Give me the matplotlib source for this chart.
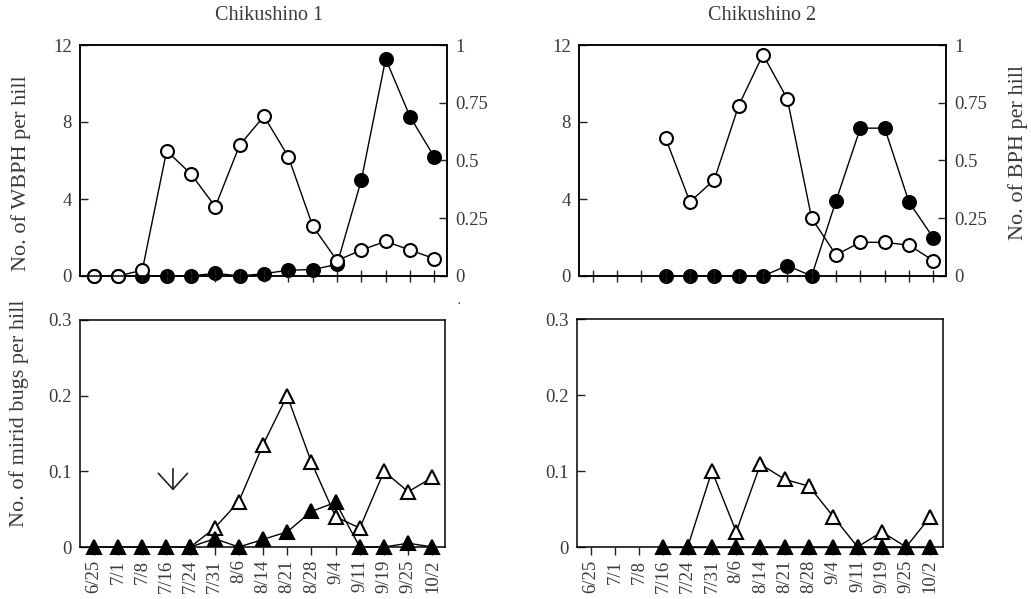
import numpy as np
import matplotlib
matplotlib.use("Agg")
import matplotlib.pyplot as plt

nan = np.nan
dates = ['6/25', '7/1', '7/8', '7/16', '7/24', '7/31', '8/6', '8/14',
         '8/21', '8/28', '9/4', '9/11', '9/19', '9/25', '10/2']

# Chikushino 1
wbph_c1 = [0, 0, 0.3, 6.5, 5.3, 3.6, 6.8, 8.3, 6.2, 2.6, 0.8, 1.35, 1.8, 1.35, 0.9]
bph_c1 = [0, 0, 0, 0, 0, 0.012, 0, 0.01, 0.025, 0.028, 0.05, 0.415, 0.94, 0.69, 0.515]
mirid_open_c1 = [nan, nan, nan, nan, 0, 0.025, 0.06, 0.135, 0.2, 0.112, 0.04, 0.025, 0.1, 0.073, 0.092]
mirid_fill_c1 = [0, 0, 0, 0, 0, 0.011, 0, 0.01, 0.02, 0.047, 0.059, 0, 0, 0.005, 0]

# Chikushino 2
wbph_c2 = [nan, nan, nan, 7.15, 3.85, 5.0, 8.85, 11.5, 9.2, 3.0, 1.1, 1.75, 1.75, 1.6, 0.8]
bph_c2 = [nan, nan, nan, 0, 0, 0, 0, 0, 0.045, 0, 0.325, 0.64, 0.64, 0.32, 0.165]
mirid_open_c2 = [nan, nan, nan, nan, 0, 0.1, 0.02, 0.109, 0.089, 0.08, 0.04, 0, 0.02, 0, 0.04]
mirid_fill_c2 = [nan, nan, nan, 0, 0, 0, 0, 0, 0, 0, 0, 0, 0, 0, 0]

titles = ['Chikushino 1', 'Chikushino 2']
wbph_ticks = [0, 4, 8, 12]
bph_ticks = [0, 0.25, 0.5, 0.75, 1]
bph_ticklabels = ['0', '0.25', '0.5', '0.75', '1']
mirid_ticks = [0, 0.1, 0.2, 0.3]
mirid_ticklabels = ['0', '0.1', '0.2', '0.3']

FONT = 'Liberation Serif'
TC = '#3a3a3a'
plt.rcParams['font.family'] = [FONT, 'DejaVu Serif']
plt.rcParams['text.color'] = TC
plt.rcParams['xtick.color'] = '#222222'
plt.rcParams['ytick.color'] = '#222222'
plt.rcParams['xtick.labelcolor'] = TC
plt.rcParams['ytick.labelcolor'] = TC

W, H = 1031, 599
fig = plt.figure(figsize=(W / 100, H / 100), dpi=100)


def rect(l, r, t, b):
    return [l / W, 1 - b / H, (r - l) / W, (b - t) / H]


x = np.arange(len(dates))
XLIM = (-0.56, 14.52)
LW = 1.0
MS = 9.3
MEW = 1.5
SPW = 1.1
TICK_FS = 13.5

top_rects = [rect(80, 447, 45, 276), rect(579, 946, 45, 276)]
bot_rects = [rect(80, 445, 320, 547), rect(577, 943, 319, 547)]
wbph = [wbph_c1, wbph_c2]
bph = [bph_c1, bph_c2]
m_open = [mirid_open_c1, mirid_open_c2]
m_fill = [mirid_fill_c1, mirid_fill_c2]

for i in range(2):
    # ---- top panel: planthoppers
    ax = fig.add_axes(top_rects[i])
    ax2 = ax.twinx()
    ax.set_zorder(ax2.get_zorder() + 1)
    ax.patch.set_visible(False)
    ax2.plot(x, bph[i], color='black', lw=LW, marker='o', ms=MS,
             mfc='black', mec='black', mew=MEW, clip_on=False)
    ax.plot(x, wbph[i], color='black', lw=LW, marker='o', ms=MS,
            mfc='white', mec='black', mew=MEW, clip_on=False)
    ax.set_xlim(*XLIM)
    ax.set_ylim(0, 12)
    ax2.set_ylim(0, 1)
    ax.set_yticks(wbph_ticks)
    ax.set_yticklabels([str(t) for t in wbph_ticks])
    ax2.set_yticks(bph_ticks)
    ax2.set_yticklabels(bph_ticklabels)
    ax.set_xticks(x)
    ax.set_xticklabels([])
    ax.tick_params(axis='x', direction='inout', length=9, width=1.0)
    ax.tick_params(axis='y', direction='in', length=6, width=1.0,
                   labelsize=TICK_FS, pad=6)
    ax2.tick_params(axis='y', direction='in', length=6, width=1.0,
                    labelsize=TICK_FS, pad=6)
    for a in (ax, ax2):
        for s in a.spines.values():
            s.set_linewidth(SPW)
    fig.text([269, 762][i] / W, 1 - 16 / H, titles[i], ha='center',
             va='center', fontsize=14.5)

    # ---- bottom panel: mirid bugs
    bx = fig.add_axes(bot_rects[i])
    bx.plot(x, m_open[i], color='black', lw=LW, marker='^', ms=MS + 0.5,
            mfc='white', mec='black', mew=MEW, clip_on=False, zorder=3)
    bx.plot(x, m_fill[i], color='black', lw=LW, marker='^', ms=MS + 0.5,
            mfc='black', mec='black', mew=MEW, clip_on=False, zorder=4)
    bx.set_xlim(*XLIM)
    bx.set_ylim(0, 0.3)
    bx.set_yticks(mirid_ticks)
    bx.set_yticklabels(mirid_ticklabels)
    bx.set_xticks(x)
    bx.set_xticklabels(dates, rotation=90)
    bx.tick_params(axis='x', direction='out', length=6, width=1.0,
                   labelsize=TICK_FS, pad=3)
    bx.tick_params(axis='y', direction='in', length=6, width=1.0,
                   labelsize=TICK_FS, pad=6)
    for s in bx.spines.values():
        s.set_linewidth(SPW)
    if i == 0:
        bx.annotate('', xy=(3.28, 0.071), xytext=(3.28, 0.107),
                    arrowprops=dict(arrowstyle='->,head_length=1.15,head_width=1.05',
                                    color='#222222', lw=1.2))

fig.text(21 / W, 1 - 173 / H, 'No. of WBPH per hill', rotation=90,
         ha='center', va='center', fontsize=16)
fig.text(1018 / W, 1 - 152 / H, 'No. of BPH per hill', rotation=90,
         ha='center', va='center', fontsize=16)
fig.text(19 / W, 1 - 413 / H, 'No. of mirid bugs per hill', rotation=90,
         ha='center', va='center', fontsize=16)
fig.text(459 / W, 1 - 304 / H, '·', ha='center', va='center', fontsize=10)

fig.savefig('out.png', dpi=100)
